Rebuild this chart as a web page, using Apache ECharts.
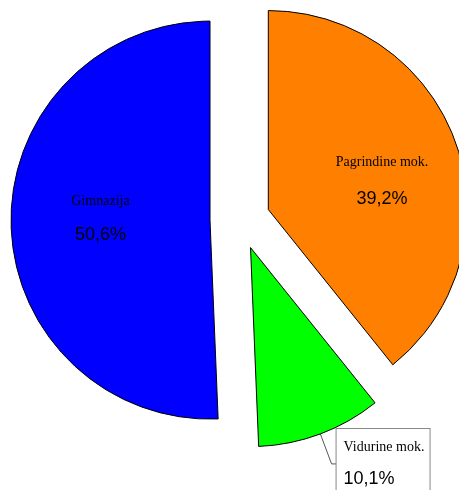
<!DOCTYPE html>
<html>
<head>
<meta charset="utf-8">
<style>
html,body{margin:0;padding:0;background:#fff;}
#chart{width:459px;height:490px;}
</style>
<script src="https://cdn.jsdelivr.net/npm/echarts@6/dist/echarts.min.js"></script>
</head>
<body>
<div id="chart"></div>
<script>
var categories = ['Pagrindine mok.', 'Vidurine mok.', 'Gimnazija'];
var values = [39.2, 10.1, 50.6];
var valueLabels = ['39,2%', '10,1%', '50,6%'];
var colors = ['#FF8000', '#00FF00', '#0000FF'];

var chart = echarts.init(document.getElementById('chart'), null, {renderer: 'canvas'});

// asymmetric padding nudges the inside labels to where the reference shows them
var labelPaddings = {0: [10, 0, 0, 34], 2: [0, 14, 8, 0]};

var data = categories.map(function (name, i) {
  var item = {
    name: name,
    value: values[i],
    selected: true,
    itemStyle: {color: colors[i]}
  };
  if (i === 1) {
    item.label = {
      position: 'outside',
      distanceToLabelLine: 0,
      backgroundColor: '#fff',
      borderColor: '#888',
      borderWidth: 1,
      padding: [6, 2, 0, 7],
      width: 84,
      overflow: 'none',
      align: 'left',
      rich: {
        a: {fontFamily: 'Liberation Serif', fontSize: 14, color: '#000', lineHeight: 24},
        b: {fontFamily: 'Liberation Sans', fontSize: 18, color: '#000', lineHeight: 40}
      }
    };
    item.labelLine = {show: true, length: 32, length2: 5, lineStyle: {color: '#555', width: 1}};
  } else {
    item.label = {
      position: 'inside',
      padding: labelPaddings[i],
      rich: {
        a: {fontFamily: 'Liberation Serif', fontSize: 14, color: '#000', lineHeight: i === 2 ? 34 : 36},
        b: {fontFamily: 'Liberation Sans', fontSize: 18, color: '#000', lineHeight: i === 2 ? 34 : 36}
      }
    };
    item.labelLine = {show: false};
  }
  return item;
});

chart.setOption({
  animation: false,
  series: [{
    type: 'pie',
    center: [240, 219.5],
    radius: [0, 199],
    startAngle: 90,
    clockwise: true,
    selectedMode: 'multiple',
    selectedOffset: 30,
    avoidLabelOverlap: false,
    emphasis: {disabled: true},
    itemStyle: {borderColor: '#000', borderWidth: 1},
    label: {
      show: true,
      formatter: function (p) {
        return '{a|' + p.name + '}\n{b|' + valueLabels[p.dataIndex] + '}';
      }
    },
    data: data
  }]
});
</script>
</body>
</html>
